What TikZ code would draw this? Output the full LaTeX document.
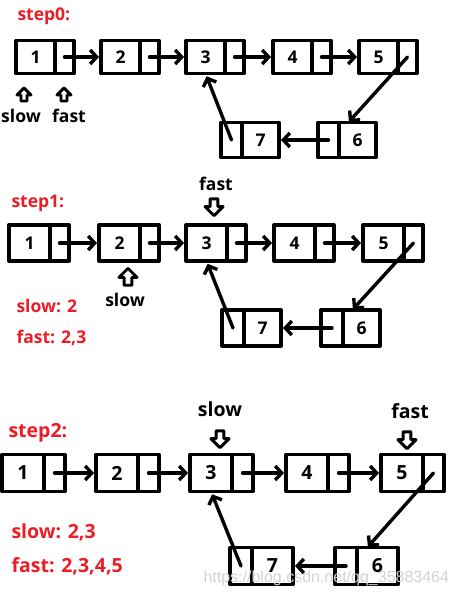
\documentclass[tikz,border=0pt]{standalone}
\usepackage{fontspec}
\setmainfont{Open Sans}
\newfontfamily\wmfont{Liberation Sans}
\usetikzlibrary{arrows.meta,calc}
\definecolor{figink}{HTML}{000000}
\definecolor{figred}{HTML}{ED1C24}
\definecolor{figwm}{HTML}{D2D2D2}

\begin{document}
\begin{tikzpicture}[x=1pt, y=-1pt, line cap=round, line join=round,
  datacell/.style={draw=figink, line width=3.3pt, inner sep=0pt, outer sep=0pt,
    minimum width=\cw pt, minimum height=\ch pt},
  nextcell/.style={datacell, minimum width=\nw pt},
  link/.style={figink, line width=3.4pt, -{Straight Barb[length=6.5pt,width=14pt]}},
  redtext/.style={figred, anchor=base west},
  ptrtext/.style={figink, anchor=base},
  ptr/.pic={\draw[figink, line width=2.9pt, fill=white]
    (0,1) -- (7,8) -- (3,8) -- (3,14) -- (-3,14) -- (-3,8) -- (-7,8) -- cycle;}
]
  \useasboundingbox (0,0) rectangle (452,594);

  % step0
  \begin{scope}[font=\fontsize{17.5}{20}\selectfont\bfseries]
    \def\ch{33}\def\cw{39}\def\nw{19}
    \foreach \i/\x in {1/16,2/101,3/186,4/273,5/359}{
      \node[datacell, anchor=west] (r0d\i) at (\x,57) {\i};
      \node[nextcell, anchor=west] (r0p\i) at (r0d\i.east) {};
    }
    \def\ch{35}\def\cw{37}\def\nw{21}
    \node[nextcell, anchor=west] (r0p7) at (221,140) {};
    \node[datacell, anchor=west] (r0d7) at (r0p7.east) {7};
    \node[nextcell, anchor=west] (r0p6) at (318,140) {};
    \node[datacell, anchor=west] (r0d6) at (r0p6.east) {6};

    \foreach \i/\j in {1/2,2/3,3/4,4/5}
      \draw[link, shorten >=2pt] (r0p\i.center) -- (r0d\j.west);
    \draw[link, shorten >=1pt] (r0p5.center) -- ($(r0d6.north west)!0.25!(r0d6.north east)$);
    \draw[link, shorten >=2pt] (r0p6.center) -- (r0d7.east);
    \draw[link, shorten >=3pt] (r0p7.center) -- (r0d3.south);

    \node[redtext] (step0) at (14,21) {step0:};
    \pic at (24,87) {ptr};
    \pic at (64,87) {ptr};
    \node[ptrtext] (slow0) at (21,122) {slow};
    \node[ptrtext] (fast0) at (69,122) {fast};
  \end{scope}

  % step1
  \begin{scope}[font=\fontsize{17.5}{20}\selectfont\bfseries]
    \def\ch{36}\def\cw{41}\def\nw{19}
    \foreach \i/\x in {1/9,2/99,3/186,4/274,5/363}{
      \node[datacell, anchor=west] (r1d\i) at (\x,243) {\i};
      \node[nextcell, anchor=west] (r1p\i) at (r1d\i.east) {};
    }
    \def\ch{36}\def\cw{37}\def\nw{22}
    \node[nextcell, anchor=west] (r1p7) at (222,328) {};
    \node[datacell, anchor=west] (r1d7) at (r1p7.east) {7};
    \node[nextcell, anchor=west] (r1p6) at (321,328) {};
    \node[datacell, anchor=west] (r1d6) at (r1p6.east) {6};

    \foreach \i/\j in {1/2,2/3,3/4,4/5}
      \draw[link, shorten >=2pt] (r1p\i.center) -- (r1d\j.west);
    \draw[link, shorten >=1pt] (r1p5.center) -- ($(r1d6.north west)!0.25!(r1d6.north east)$);
    \draw[link, shorten >=2pt] (r1p6.center) -- (r1d7.east);
    \draw[link, shorten >=3pt] (r1p7.center) -- (r1d3.south);

    \node[redtext] (step1) at (8,207) {step1:};
    \node[ptrtext] (fast1) at (216,190) {fast};
    \pic[rotate=180, scale=1.3] at (214,217) {ptr};
    \pic[scale=1.3] at (128,267) {ptr};
    \node[ptrtext] (slow1) at (125,306) {slow};
    \node[redtext] (slowv1) at (13,312) {slow: 2};
    \node[redtext] (fastv1) at (13,343) {fast: 2,3};
  \end{scope}

  % step2
  \begin{scope}[font=\fontsize{19.5}{22}\selectfont\bfseries]
    \def\ch{37}\def\cw{42}\def\nw{21}
    \foreach \i/\x in {1/2,2/96,3/190,4/286,5/381}{
      \node[datacell, anchor=west] (r2d\i) at (\x,473) {\i};
      \node[nextcell, anchor=west] (r2p\i) at (r2d\i.east) {};
    }
    \def\ch{37}\def\cw{41}\def\nw{22}
    \node[nextcell, anchor=west] (r2p7) at (230,566) {};
    \node[datacell, anchor=west] (r2d7) at (r2p7.east) {7};
    \node[nextcell, anchor=west] (r2p6) at (335,566) {};
    \node[datacell, anchor=west] (r2d6) at (r2p6.east) {6};

    \foreach \i/\j in {1/2,2/3,3/4,4/5}
      \draw[link, shorten >=2pt] (r2p\i.center) -- (r2d\j.west);
    \draw[link, shorten >=1pt] (r2p5.center) -- ($(r2d6.north west)!0.25!(r2d6.north east)$);
    \draw[link, shorten >=2pt] (r2p6.center) -- (r2d7.east);
    \draw[link, shorten >=3pt] (r2p7.center) -- (r2d3.south);

    \node[redtext] (step2) at (5,437) {step2:};
    \node[ptrtext] (slow2) at (220,416) {slow};
    \pic[rotate=180, scale=1.3] at (220,449) {ptr};
    \node[ptrtext] (fast2) at (410,418) {fast};
    \pic[rotate=180, scale=1.3] at (407,450) {ptr};
    \node[redtext] (slowv2) at (8,538) {slow: 2,3};
    \node[redtext] (fastv2) at (8,572) {fast: 2,3,4,5};
  \end{scope}

  % watermark
  \node[figwm, anchor=base west, font=\wmfont\fontsize{16}{18}\selectfont]
    (mark) at (200,582) {https://blog.csdn.net/qq\_35883464};
\end{tikzpicture}
\end{document}
